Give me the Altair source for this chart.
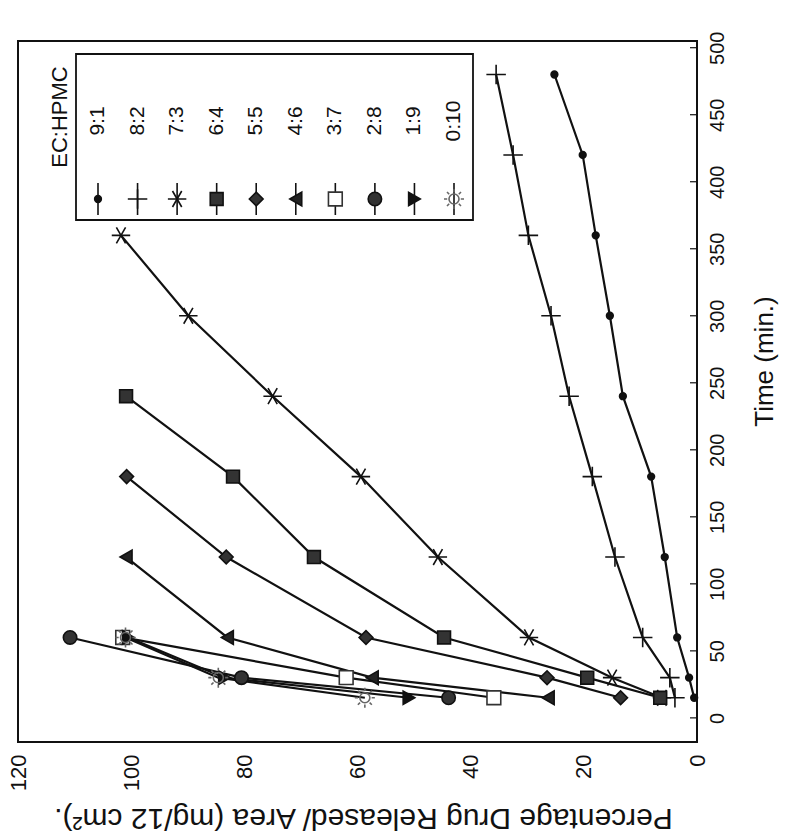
import altair as alt
import pandas as pd

# ---------------- data read from the (rotated) figure ----------------
series_names = ["9:1", "8:2", "7:3", "6:4", "5:5", "4:6", "3:7", "2:8", "1:9", "0:10"]

time_9_1 = [15, 30, 60, 120, 180, 240, 300, 360, 420, 480]
pct_9_1 = [0.5, 1.4, 3.5, 5.7, 8.1, 13.1, 15.4, 17.9, 20.2, 25.2]
time_8_2 = [15, 30, 60, 120, 180, 240, 300, 360, 420, 480]
pct_8_2 = [3.9, 4.8, 9.6, 14.5, 18.5, 22.6, 25.8, 29.8, 32.5, 35.5]
time_7_3 = [15, 30, 60, 120, 180, 240, 300, 360]
pct_7_3 = [6.2, 15.0, 29.7, 45.8, 59.4, 75.0, 89.9, 101.8]
time_6_4 = [15, 30, 60, 120, 180, 240]
pct_6_4 = [6.5, 19.4, 44.7, 67.7, 82.0, 100.9]
time_5_5 = [15, 30, 60, 120, 180]
pct_5_5 = [13.5, 26.5, 58.5, 83.2, 100.8]
time_4_6 = [15, 30, 60, 120]
pct_4_6 = [26.3, 57.4, 83.0, 100.9]
time_3_7 = [15, 30, 60]
pct_3_7 = [35.9, 62.0, 101.5]
time_2_8 = [15, 30, 60]
pct_2_8 = [43.9, 80.5, 110.8]
time_1_9 = [15, 30, 60]
pct_1_9 = [50.9, 83.5, 100.5]
time_0_10 = [15, 30, 60]
pct_0_10 = [58.7, 84.6, 101.0]

time_ticks = [0, 50, 100, 150, 200, 250, 300, 350, 400, 450, 500]
pct_ticks = [0, 20, 40, 60, 80, 100, 120]

legend_title = "EC:HPMC"
x_title = "Percentage Drug Released/ Area (mg/12 cm\u00b2)."
y_title = "Time (min.)"

# ---------------- build table ----------------
series_data = [
    (time_9_1, pct_9_1), (time_8_2, pct_8_2), (time_7_3, pct_7_3),
    (time_6_4, pct_6_4), (time_5_5, pct_5_5), (time_4_6, pct_4_6),
    (time_3_7, pct_3_7), (time_2_8, pct_2_8), (time_1_9, pct_1_9),
    (time_0_10, pct_0_10),
]
rows = []
for name, (ts, ps) in zip(series_names, series_data):
    for t, p in zip(ts, ps):
        rows.append({"series": name, "time": t, "pct": p})
df = pd.DataFrame(rows)
legend_df = pd.DataFrame({"series": series_names})
single_df = pd.DataFrame({"title": [legend_title]})
ticks_df = pd.DataFrame({"time": time_ticks})

# ---------------- styles ----------------
FONT = "Liberation Sans"
W, H = 679, 701

PLUS = "M-1,0L1,0M0,-1L0,1"
STAR6 = "M-1,0L1,0M-0.5,-0.866L0.5,0.866M-0.5,0.866L0.5,-0.866"
SUN = ("M0.5,0A0.5,0.5 0 1,1 -0.5,0A0.5,0.5 0 1,1 0.5,0"
       "M-1,0L-0.68,0M0.68,0L1,0M0,-1L0,-0.68M0,0.68L0,1"
       "M-0.7,-0.7L-0.48,-0.48M0.48,0.48L0.7,0.7"
       "M-0.7,0.7L-0.48,0.48M0.48,-0.48L0.7,-0.7")

shape_scale = alt.Scale(domain=series_names, range=[
    "circle", PLUS, STAR6, "square", "diamond", "triangle-left",
    "square", "circle", "triangle-right", SUN])
fill_scale = alt.Scale(domain=series_names, range=[
    "#111111", "transparent", "transparent", "#333333", "#333333", "#222222",
    "#ffffff", "#333333", "#111111", "transparent"])
stroke_scale = alt.Scale(domain=series_names, range=[
    "#111111", "#111111", "#111111", "#111111", "#111111", "#111111",
    "#333333", "#111111", "#111111", "#666666"])
marker_sizes = [45, 380, 340, 165, 190, 190, 190, 180, 180, 400]
size_expr = "{}[indexof({}, datum.series)]".format(
    "[" + ",".join(str(s) for s in marker_sizes) + "]",
    "[" + ",".join("'" + s + "'" for s in series_names) + "]")

x_scale = alt.Scale(domain=[0, 120], reverse=True, nice=False, zero=False)
y_scale = alt.Scale(domain=[-18, 505], nice=False, zero=False)

x_axis = alt.Axis(
    orient="bottom", values=pct_ticks, labelAngle=270, labelAlign="right",
    labelBaseline="middle", labelFontSize=22, labelPadding=12, labelFont=FONT,
    labelColor="#111111", ticks=False, domain=False, grid=False,
    title=x_title, titleAngle=180, titleFontSize=30, titleFont=FONT,
    titleFontWeight="normal", titleColor="#111111", titleBaseline="bottom",
    titleX=345, titleY=60)
y_axis = alt.Axis(
    orient="right", values=time_ticks, labelAngle=270, labelAlign="center",
    labelBaseline="top", labelFontSize=20, labelPadding=10, labelFont=FONT,
    labelColor="#111111", ticks=False, domain=False, grid=False,
    title=y_title, titleAngle=270, titleFontSize=26, titleFont=FONT,
    titleFontWeight="normal", titleColor="#111111", titleBaseline="top",
    titleX=54, titleY=320)

lines = alt.Chart(df).mark_line(color="#111111", strokeWidth=2.2).encode(
    x=alt.X("pct:Q", scale=x_scale, axis=x_axis),
    y=alt.Y("time:Q", scale=y_scale, axis=y_axis),
    detail="series:N",
    order="time:Q",
)

points = alt.Chart(df).transform_calculate(msize=size_expr).mark_point(
    strokeWidth=1.6, opacity=1).encode(
    x=alt.X("pct:Q", scale=x_scale, axis=None),
    y=alt.Y("time:Q", scale=y_scale, axis=y_axis),
    shape=alt.Shape("series:N", scale=shape_scale, legend=None),
    fill=alt.Fill("series:N", scale=fill_scale, legend=None),
    stroke=alt.Stroke("series:N", scale=stroke_scale, legend=None),
    size=alt.Size("msize:Q", scale=None, legend=None),
)

inner_ticks = alt.Chart(ticks_df).mark_rule(color="#111111", strokeWidth=1.2).encode(
    x=alt.value(W - 7), x2=alt.value(W),
    y=alt.Y("time:Q", scale=y_scale, axis=y_axis),
)

# ---------------- legend (drawn rotated, like the figure) ----------------
leg_x = alt.X("series:N", scale=alt.Scale(type="point", domain=series_names,
                                          range=[80, 436], padding=0), axis=None)

leg_box = alt.Chart(single_df).mark_rect(
    fillOpacity=0, stroke="#111111", strokeWidth=1.8).encode(
    x=alt.value(58), x2=alt.value(455), y=alt.value(13), y2=alt.value(179))

leg_title = alt.Chart(single_df).mark_text(
    angle=270, font=FONT, fontSize=22, fontWeight="normal",
    color="#111111", align="center", baseline="middle").encode(
    x=alt.value(42), y=alt.value(76), text="title:N")

leg_rules = alt.Chart(legend_df).mark_rule(color="#111111", strokeWidth=1.6).encode(
    x=leg_x, y=alt.value(142), y2=alt.value(174))

leg_points = alt.Chart(legend_df).transform_calculate(msize=size_expr).mark_point(
    strokeWidth=1.6, opacity=1).encode(
    x=leg_x, y=alt.value(158),
    shape=alt.Shape("series:N", scale=shape_scale, legend=None),
    fill=alt.Fill("series:N", scale=fill_scale, legend=None),
    stroke=alt.Stroke("series:N", scale=stroke_scale, legend=None),
    size=alt.Size("msize:Q", scale=None, legend=None),
)

leg_labels = alt.Chart(legend_df).mark_text(
    angle=270, font=FONT, fontSize=21, fontWeight="normal", color="#111111",
    align="center", baseline="middle").encode(
    x=leg_x, y=alt.value(80), text="series:N")

chart = alt.layer(
    lines, points, inner_ticks, leg_box, leg_title, leg_rules, leg_points, leg_labels
).resolve_scale(x="independent").properties(
    width=W, height=H,
    autosize=alt.AutoSizeParams(type="none"),
    padding={"left": 18, "top": 41, "right": 89, "bottom": 95},
    background="white",
).configure_view(stroke="#111111", strokeWidth=2)

chart.save("out.html", embed_options={"renderer": "svg", "actions": False})
